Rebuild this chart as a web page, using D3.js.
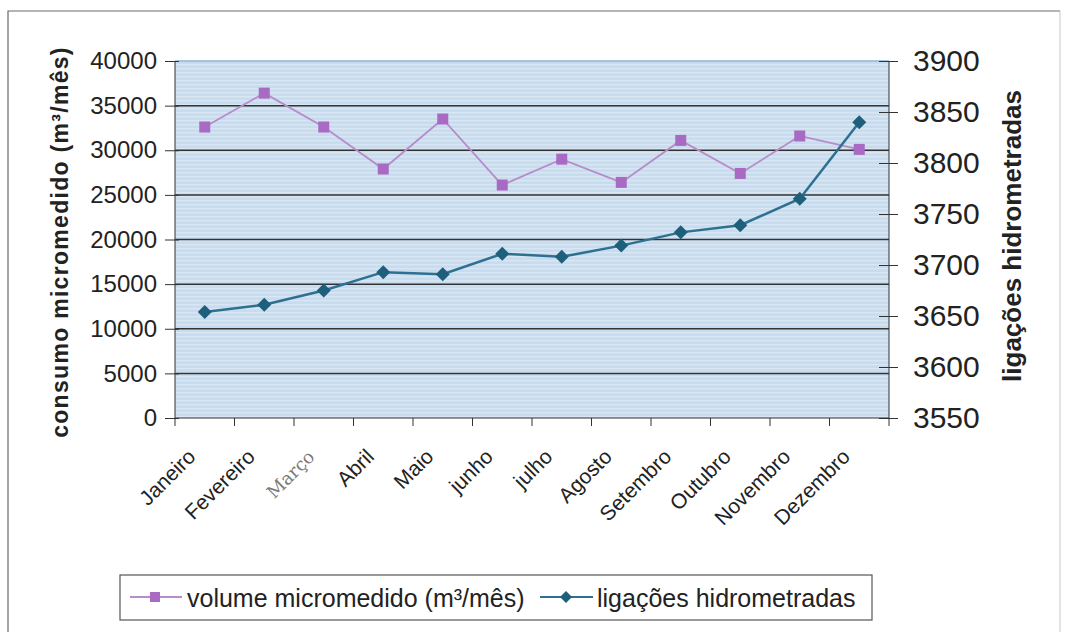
<!DOCTYPE html>
<html><head><meta charset="utf-8">
<script src="https://cdn.jsdelivr.net/npm/d3@7"></script>
<style>body{margin:0;background:#fff;} svg{display:block;}</style>
</head><body>
<svg id="c" width="1067" height="632"></svg>
<script>
const months = ["Janeiro","Fevereiro","Março","Abril","Maio","junho","julho","Agosto","Setembro","Outubro","Novembro","Dezembro"];
const volume = [32600,36400,32600,27900,33500,26100,29000,26400,31100,27400,31600,30100];
const ligacoes = [3654,3661,3675,3693,3691,3711,3708,3719,3732,3739,3765,3840];
const leftTicks = [0,5000,10000,15000,20000,25000,30000,35000,40000];
const rightTicks = [3550,3600,3650,3700,3750,3800,3850,3900];

const svg = d3.select("#c");
const L = 175, R = 889, T = 61, B = 418;
const font = "'Liberation Sans', Arial, sans-serif";

// outer frame
svg.append("path").attr("d","M8,632 L8,11 L1060,11").attr("fill","none").attr("stroke","#6a6a6a").attr("stroke-width",1.2);
svg.append("line").attr("x1",1060).attr("x2",1060).attr("y1",11).attr("y2",632).attr("stroke","#c8c8c8").attr("stroke-width",1);

const x = d3.scaleBand().domain(months).range([L,R]);
const yL = d3.scaleLinear().domain([0,40000]).range([B,T]);
const yR = d3.scaleLinear().domain([3550,3900]).range([B,T]);

// background with stripes
const defs = svg.append("defs");
const pat = defs.append("pattern").attr("id","stripe").attr("width",6).attr("height",4).attr("patternUnits","userSpaceOnUse");
pat.append("rect").attr("width",6).attr("height",4).attr("fill","#c8dcef");
pat.append("rect").attr("y",0).attr("width",6).attr("height",1.3).attr("fill","#d9e6f3");
svg.append("rect").attr("x",L).attr("y",T).attr("width",R-L).attr("height",B-T).attr("fill","url(#stripe)");
svg.append("line").attr("x1",L).attr("x2",R).attr("y1",T).attr("y2",T).attr("stroke","#8fb3d4").attr("stroke-width",1.5);

// gridlines
svg.append("g").selectAll("line").data(leftTicks.filter(d=>d>0 && d<40000)).join("line")
  .attr("x1",L).attr("x2",R).attr("y1",d=>yL(d)).attr("y2",d=>yL(d))
  .attr("stroke","#333").attr("stroke-width",1.5);

// left axis
const gl = svg.append("g").attr("transform",`translate(${L},0)`)
  .call(d3.axisLeft(yL).tickValues(leftTicks).tickSize(10).tickPadding(8).tickFormat(d3.format("d")));
gl.selectAll(".tick line").attr("x1",4).attr("stroke","#333");
gl.select(".domain").attr("stroke","#333").attr("d",`M0,${T}V${B}`);
gl.selectAll("text").attr("font-family",font).attr("font-size",24).attr("fill","#222");

// right axis
const gr = svg.append("g").attr("transform",`translate(${R},0)`)
  .call(d3.axisRight(yR).tickValues(rightTicks).tickSize(9).tickPadding(15).tickFormat(d3.format("d")));
gr.selectAll(".tick line").attr("x1",-10).attr("stroke","#333");
gr.select(".domain").attr("stroke","#333").attr("d",`M0,${T}V${B}`);
gr.selectAll("text").attr("font-family",font).attr("font-size",30).attr("fill","#222");

// bottom axis
const gb = svg.append("g").attr("transform",`translate(0,${B})`);
gb.append("line").attr("x1",L).attr("x2",R).attr("stroke","#333").attr("stroke-width",1.2);
const edges = months.map((m,i)=>x(m)).concat([R]);
gb.selectAll(".tk").data(edges).join("line").attr("class","tk")
  .attr("x1",d=>d).attr("x2",d=>d).attr("y1",0).attr("y2",8).attr("stroke","#333");
gb.selectAll(".lbl").data(months).join("text").attr("class","lbl")
  .attr("transform",d=>`translate(${x(d)+x.bandwidth()/2-8},${40}) rotate(-45)`)
  .attr("text-anchor","end")
  .attr("font-family",d=>d==="Março"?"'DejaVu Serif', serif":font)
  .attr("font-size",d=>d==="Março"?18:21)
  .attr("fill",d=>d==="Março"?"#7a7a7a":"#222")
  .text(d=>d);

// axis titles
svg.append("text").attr("transform",`translate(68,242) rotate(-90)`).attr("text-anchor","middle")
  .attr("font-family",font).attr("font-weight","bold").attr("font-size",23).attr("letter-spacing",1.3).attr("fill","#222")
  .text("consumo micromedido (m³/mês)");
svg.append("text").attr("transform",`translate(1021,236) rotate(-90)`).attr("text-anchor","middle")
  .attr("font-family",font).attr("font-weight","bold").attr("font-size",26).attr("fill","#222")
  .text("ligações hidrometradas");

const cx = d => x(d)+x.bandwidth()/2;
const purple = "#b68cca", purpleM = "#a86ac2";
const blue = "#2e7090", blueM = "#1e5f7c";

// volume line
svg.append("path").datum(volume)
  .attr("d", d3.line().x((d,i)=>cx(months[i])).y(d=>yL(d)))
  .attr("fill","none").attr("stroke",purple).attr("stroke-width",1.8);
svg.append("g").selectAll("rect").data(volume).join("rect")
  .attr("x",(d,i)=>cx(months[i])-5.5).attr("y",d=>yL(d)-5.5).attr("width",11).attr("height",11)
  .attr("fill",purpleM);

// ligacoes line
svg.append("path").datum(ligacoes)
  .attr("d", d3.line().x((d,i)=>cx(months[i])).y(d=>yR(d)))
  .attr("fill","none").attr("stroke",blue).attr("stroke-width",2.5);
svg.append("g").selectAll("path").data(ligacoes).join("path")
  .attr("d",(d,i)=>{const X=cx(months[i]),Y=yR(d);return `M${X},${Y-7}L${X+7},${Y}L${X},${Y+7}L${X-7},${Y}Z`;})
  .attr("fill",blueM);

// legend
const lg = svg.append("g");
lg.append("rect").attr("x",120).attr("y",575).attr("width",752).attr("height",45)
  .attr("fill","#fff").attr("stroke","#555").attr("stroke-width",1.2);
lg.append("line").attr("x1",130).attr("x2",182).attr("y1",597).attr("y2",597).attr("stroke",purple).attr("stroke-width",2);
lg.append("rect").attr("x",150).attr("y",592).attr("width",10).attr("height",10).attr("fill",purpleM);
lg.append("text").attr("x",187).attr("y",598).attr("dy","0.35em").attr("font-family",font).attr("font-size",25).attr("fill","#222")
  .text("volume micromedido (m³/mês)");
lg.append("line").attr("x1",540).attr("x2",593).attr("y1",597).attr("y2",597).attr("stroke",blue).attr("stroke-width",2);
lg.append("path").attr("d","M566,591L572,597L566,603L560,597Z").attr("fill",blueM);
lg.append("text").attr("x",597).attr("y",598).attr("dy","0.35em").attr("font-family",font).attr("font-size",25).attr("fill","#222")
  .text("ligações hidrometradas");
</script>
</body></html>
